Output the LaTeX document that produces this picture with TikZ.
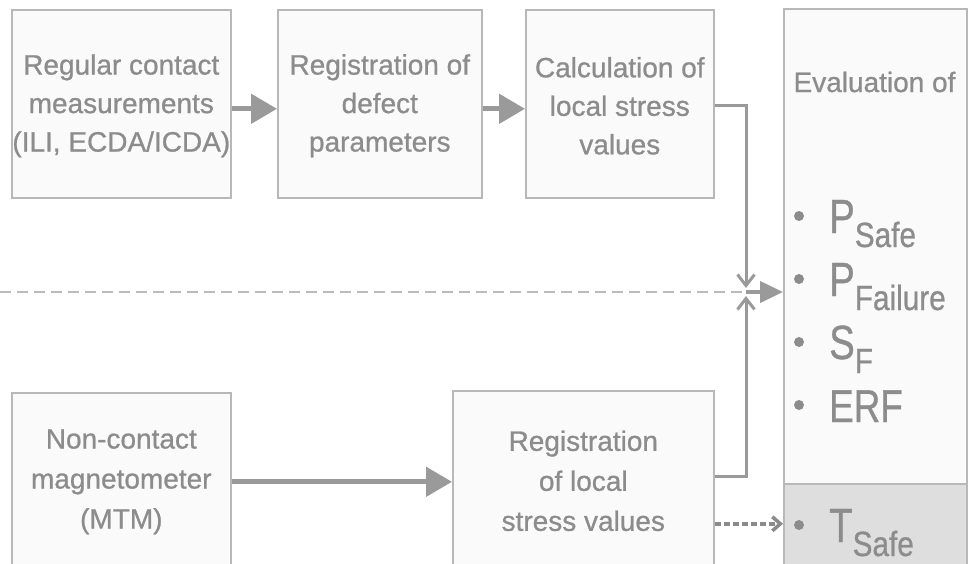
\documentclass[tikz,border=0pt]{standalone}
\usepackage{fontspec}
\setmainfont{Liberation Sans}[FakeBold=0.8]
\newfontfamily\heavy{Liberation Sans}[FakeBold=0.8]
\usetikzlibrary{arrows.meta}
\definecolor{boxline}{HTML}{B8B8B8}
\definecolor{boxfill}{HTML}{FAFAFA}
\definecolor{txt}{HTML}{8C8C8C}
\definecolor{arr}{HTML}{9A9A9A}
\definecolor{dashcol}{HTML}{BBBBBB}
\definecolor{darkdash}{HTML}{8A8A8A}
\definecolor{shade}{HTML}{DEDEDE}
\newcommand{\bigsym}[1]{\scalebox{0.8}[1]{\fontsize{48}{48}\selectfont #1}}
\newcommand{\subsym}[1]{\raisebox{-14pt}{\scalebox{0.85}[1]{\fontsize{35}{35}\selectfont #1}}}
\begin{document}
\begin{tikzpicture}[x=1pt,y=-1pt,
  box/.style={draw=boxline, line width=1.6pt, fill=boxfill, inner sep=0pt},
  lbl/.style={text=txt, font=\heavy\fontsize{28}{38.5}\selectfont, align=center, inner sep=0pt},
  lbllow/.style={text=txt, font=\heavy\fontsize{28}{40}\selectfont, align=center, inner sep=0pt},
  fat/.style={draw=arr, line width=5pt, -{Triangle[length=26pt,width=29pt]}},
  joinarrow/.style={draw=arr, line width=3pt, -{Straight Barb[length=11pt,width=17pt]}, shorten >=4pt},
  dashline/.style={draw=dashcol, line width=2pt, dash pattern=on 11pt off 6pt},
  dasharrow/.style={draw=darkdash, line width=3.5pt, dash pattern=on 6pt off 3pt, -{Straight Barb[length=8pt,width=14pt]}},
  itemtext/.style={text=txt, anchor=base west, inner sep=0pt, font=\heavy},
  dotfill/.style={fill=txt},
]
\useasboundingbox (0,0) rectangle (974,563);
\fill[white] (0,0) rectangle (974,563);
\clip (0,0) rectangle (974,563);

% top row
\node[box, minimum width=219pt, minimum height=188pt, anchor=north west] (b1) at (11,9) {};
\node[box, minimum width=204pt, minimum height=188pt, anchor=north west] (b2) at (277,9) {};
\node[box, minimum width=188pt, minimum height=188pt, anchor=north west] (b3) at (525,9) {};
\node[lbl] (t1) at ([yshift=-2pt]b1.center) {Regular contact\\measurements\\(ILI, ECDA/ICDA)};
\node[lbl] (t2) at ([yshift=-2pt]b2.center) {Registration of\\defect\\parameters};
\node[lbl] (t3) at ([yshift=-2pt]b3.center) {Calculation of\\local stress\\values};

% bottom row
\node[box, minimum width=219pt, minimum height=178pt, anchor=north west] (b4) at (11,392) {};
\node[box, minimum width=261pt, minimum height=180pt, anchor=north west] (b5) at (452,390) {};
\node[lbllow] (t4) at (b4) {Non-contact\\magnetometer\\(MTM)};
\node[lbllow] (t5) at (b5) {Registration\\of local\\stress values};

% evaluation box
\node[box, minimum width=183pt, minimum height=570pt, anchor=north west] (ev) at (783,8) {};
\node[box, fill=shade, minimum width=183pt, minimum height=100pt, anchor=north west] (evs) at (783,483) {};
\node[text=txt, anchor=base, inner sep=0pt, font=\heavy\fontsize{28}{34}\selectfont] (evt) at (874.5,92) {Evaluation of};

\fill[dotfill] (799,216) circle (5);
\fill[dotfill] (799,279) circle (5);
\fill[dotfill] (799,342) circle (5);
\fill[dotfill] (799,405) circle (5);
\fill[dotfill] (799,525) circle (5);
\node[itemtext] (i1) at (829,233) {\bigsym{P}\subsym{Safe}};
\node[itemtext] (i2) at (829,296) {\bigsym{P}\subsym{Failure}};
\node[itemtext] (i3) at (829,359) {\bigsym{S}\subsym{F}};
\node[itemtext] (i4) at (829,422) {\scalebox{0.8}[1]{\fontsize{46}{46}\selectfont ERF}};
\node[itemtext] (i5) at (829,542) {\bigsym{T}\subsym{Safe}};

% connectors
\coordinate (J) at (746,292);
\coordinate (L) at (0,292);
\draw[fat] ([yshift=-5pt]b1.east) -- ([yshift=-5pt]b2.west);
\draw[fat] ([yshift=-5pt]b2.east) -- ([yshift=-5pt]b3.west);
\draw[fat] (b4.east) -- (b4.east -| b5.west);
\draw[dashline] (L) -- (J);
\draw[joinarrow] ([yshift=-2pt]b3.east) -| (J);
\draw[joinarrow] ([yshift=4pt]b5.east) -| (J);
\draw[draw=arr, line width=4pt, -{Triangle[length=23pt,width=21pt]}] (J) -- (J -| ev.west);
\coordinate (d0) at ([yshift=-43pt]b5.east);
\draw[dasharrow] (d0) -- (d0 -| ev.west);
\end{tikzpicture}
\end{document}
